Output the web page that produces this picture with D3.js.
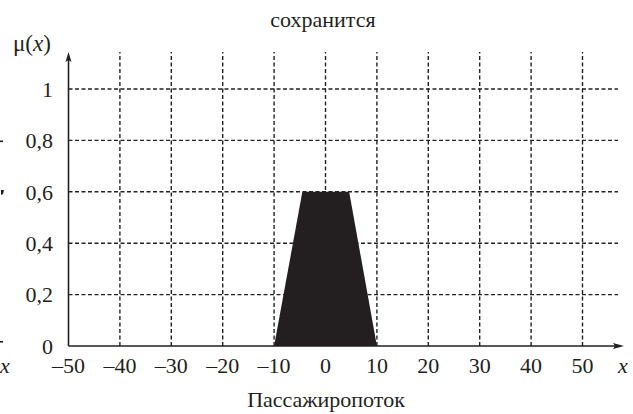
<!DOCTYPE html>
<html><head><meta charset="utf-8">
<script src="https://cdn.jsdelivr.net/npm/d3@7"></script>
<style>body{margin:0;background:#fff}svg{display:block}text{font-family:"Liberation Serif","Times New Roman",serif;fill:#231f20}</style>
</head><body><svg id="c" width="633" height="414"></svg>
<script>
const title = "сохранится";
const xLabel = "Пассажиропоток";
const xTicks = [-50,-40,-30,-20,-10,0,10,20,30,40,50];
const yTicks = [0,0.2,0.4,0.6,0.8,1];
const yTickLabels = ["0","0,2","0,4","0,6","0,8","1"];
const shapeX = [-10,-4.5,4.6,10];
const shapeY = [0,0.6,0.6,0];

const svg = d3.select("#c");
const x = d3.scaleLinear().domain([-50,50]).range([68.5,582.5]);
const y = d3.scaleLinear().domain([0,1]).range([346,89]);
const ink = "#231f20";
const fs = 22;

// grid
const g = svg.append("g");
g.selectAll("line.v").data(xTicks.filter(d=>d!==-50)).join("line")
 .attr("x1",d=>x(d)).attr("x2",d=>x(d)).attr("y1",y(0)).attr("y2",52)
 .attr("stroke","#222").attr("stroke-width",1.4).attr("stroke-dasharray","4,2.5");
g.selectAll("line.h").data(yTicks.filter(d=>d!==0)).join("line")
 .attr("x1",x(-50)).attr("x2",618).attr("y1",d=>y(d)).attr("y2",d=>y(d))
 .attr("stroke","#222").attr("stroke-width",1.4).attr("stroke-dasharray","4,2.5");

// shape
const pts = shapeX.map((v,i)=>[x(v),y(shapeY[i])]);
svg.append("path").attr("d",d3.line()(pts)+"Z").attr("fill",ink);

// axes
svg.append("line").attr("x1",x(-50)).attr("x2",620).attr("y1",y(0)).attr("y2",y(0)).attr("stroke",ink).attr("stroke-width",1.6);
svg.append("path").attr("d",`M624,${y(0)} L613,${y(0)-3} L615,${y(0)} L613,${y(0)+3} Z`).attr("fill",ink);
svg.append("line").attr("x1",x(-50)).attr("x2",x(-50)).attr("y1",y(0)).attr("y2",57).attr("stroke",ink).attr("stroke-width",1.6);
svg.append("path").attr("d",`M${x(-50)},52 L${x(-50)-3},62 L${x(-50)},60 L${x(-50)+3},62 Z`).attr("fill",ink);

// tick labels
svg.selectAll("text.yt").data(yTicks).join("text")
 .attr("x",53).attr("y",d=>y(d)).attr("dy","0.35em").attr("text-anchor","end")
 .attr("font-size",fs).text((d,i)=>yTickLabels[i]);
svg.selectAll("text.xt").data(xTicks).join("text")
 .attr("x",d=>x(d)).attr("y",373).attr("text-anchor","middle")
 .attr("font-size",fs).text(d=>d<0?"\u2013"+Math.abs(d):String(d));

// labels
svg.append("text").attr("x",323).attr("y",27).attr("text-anchor","middle").attr("font-size",fs).text(title);
svg.append("text").attr("x",326).attr("y",407).attr("text-anchor","middle").attr("font-size",fs).text(xLabel);
const mu = svg.append("text").attr("x",13).attr("y",51).attr("font-size",fs+1);
mu.append("tspan").text("μ(");
mu.append("tspan").attr("font-style","italic").text("x");
mu.append("tspan").text(")");
svg.append("text").attr("x",623).attr("y",373).attr("text-anchor","middle").attr("font-size",fs).attr("font-style","italic").text("x");
svg.append("text").attr("x",0).attr("y",373).attr("font-size",fs).attr("font-style","italic").text("x");
// clipped fragments of the neighbouring chart at the left edge
svg.append("rect").attr("x",0).attr("y",140.5).attr("width",3).attr("height",1.6).attr("fill",ink);
svg.append("path").attr("d","M1,190 L4,190 L3,194 L1,195 Z").attr("fill",ink);
svg.append("rect").attr("x",0).attr("y",341).attr("width",3).attr("height",1.6).attr("fill",ink);
</script></body></html>
